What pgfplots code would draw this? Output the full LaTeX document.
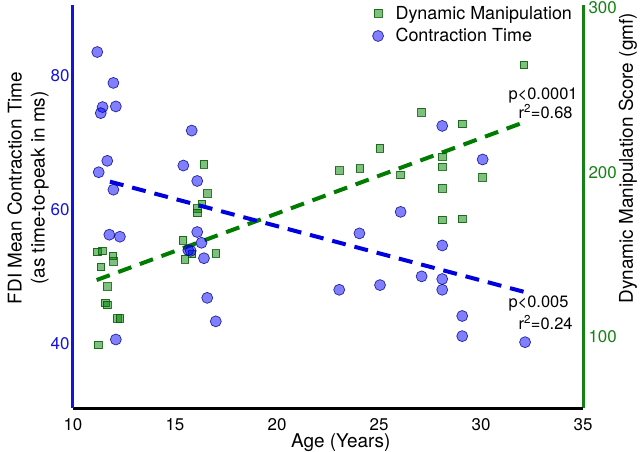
\documentclass[border=0pt]{standalone}
\usepackage{fontspec}
\setmainfont{TeX Gyre Heros}
\usepackage{pgfplots}
\pgfplotsset{compat=1.18}

\definecolor{axblue}{RGB}{20,20,220}
\definecolor{axgreen}{RGB}{20,130,20}
\definecolor{lnblue}{RGB}{0,0,225}
\definecolor{lngreen}{RGB}{0,125,0}

\pgfplotstableread{
age ms
11.19 83.0
11.98 78.4
11.45 74.8
11.36 73.9
12.10 74.9
11.68 66.8
11.26 65.1
11.98 62.5
11.78 55.8
12.30 55.5
12.10 40.2
15.82 71.3
15.41 66.1
16.09 63.8
16.09 56.2
16.30 54.6
15.65 53.5
15.77 53.4
16.42 52.3
16.58 46.4
17.00 42.9
23.05 47.6
25.05 48.3
24.04 56.0
26.06 59.2
27.09 49.6
28.10 49.2
28.10 47.6
28.10 54.2
28.10 72.0
30.08 67.0
29.08 43.7
29.08 40.7
32.16 39.8
}\contraction

\pgfplotstableread{
age score
11.24 93.3
11.19 150.0
11.45 150.6
11.36 140.9
11.95 147.4
11.98 144.0
11.68 128.8
11.58 119.0
11.68 117.6
12.17 109.5
12.30 109.5
16.42 203.2
16.58 185.5
16.31 179.0
16.09 176.4
16.09 173.7
15.38 157.1
15.49 145.4
15.82 148.6
17.01 149.0
23.05 199.3
24.07 200.7
25.05 212.9
26.06 196.7
27.09 234.8
28.10 207.8
28.10 201.7
28.10 188.6
28.10 169.3
29.08 227.7
29.08 169.9
30.08 195.3
32.11 263.5
}\dynman

\pgfplotsset{
  base/.style={
    scale only axis, width=510bp, height=403bp,
    at={(0,0)}, anchor=south west,
    xmin=10, xmax=35,
    tick style={draw=none},
    /pgf/number format/assume math mode=true,
    ticklabel style={font=\fontsize{17}{20}\selectfont},
    label style={font=\fontsize{19}{23}\selectfont},
  },
  circ/.style={only marks, mark=*, mark size=5.5bp,
    mark options={fill=blue, fill opacity=0.5, draw=blue!50!black, draw opacity=0.8, line width=0.7bp}},
  sq/.style={only marks, mark=square*, mark size=3.8bp,
    mark options={fill=green!50!black, fill opacity=0.5, draw=green!35!black, draw opacity=0.8, line width=0.7bp}},
}

\begin{document}
\begin{tikzpicture}
\useasboundingbox (-73bp,-44bp) rectangle (567bp,408bp);

% right axis: dynamic manipulation
\begin{axis}[base,
  axis x line=none,
  axis y line*=right,
  y axis line style={draw=axgreen, line width=3bp, -},
  ymin=55, ymax=300,
  ytick={100,200,300},
  yticklabel style={text=axgreen, xshift=2bp, yshift=-3bp},
  ylabel={Dynamic Manipulation Score (gmf)},
  ylabel style={at={(axis description cs:1.088,0.62)}, anchor=center},
]
\addplot[sq] table[x=age, y=score] {\dynman};
\addplot[lngreen, line width=4bp, dash pattern=on 14bp off 9bp] coordinates {(11.16,132.8) (32.04,228.4)};
\end{axis}

% left axis: contraction time
\begin{axis}[base,
  axis x line*=bottom,
  axis y line*=left,
  x axis line style={draw=black, line width=3bp, -},
  y axis line style={draw=axblue, line width=3bp, -},
  ymin=30, ymax=90,
  ytick={40,60,80},
  xtick={10,15,20,25,30,35},
  yticklabel style={text=axblue, yshift=-3bp},
  xticklabel style={yshift=-7bp},
  xlabel={Age (Years)},
  xlabel style={at={(axis description cs:0.525,-0.087)}, anchor=center},
  ylabel={FDI Mean Contraction Time\\(as time-to-peak in ms)},
  ylabel style={at={(axis description cs:-0.088,0.546)}, anchor=center, align=center},
  legend style={at={(axis description cs:0.587,1.003)}, anchor=north west,
    draw=none, fill=none, inner sep=0pt, row sep=4bp,
    font=\fontsize{18}{21}\selectfont,
    /tikz/every odd column/.append style={column sep=10bp}},
  legend cell align=left,
  clip=false,
]
\addlegendimage{sq}
\addlegendentry{Dynamic Manipulation}
\addplot[circ] table[x=age, y=ms] {\contraction};
\addlegendentry{Contraction Time}
\addplot[lnblue, line width=4bp, dash pattern=on 14bp off 9bp, forget plot] coordinates {(11.81,63.7) (32.1,47.3)};
\node[anchor=west, font=\fontsize{16.5}{19}\selectfont] at (axis cs:31.18,76.6) {p<0.0001};
\node[anchor=west, font=\fontsize{16.5}{19}\selectfont] at (axis cs:31.67,74.1) {r\textsuperscript{2}=0.68};
\node[anchor=west, font=\fontsize{16.5}{19}\selectfont] at (axis cs:31.18,45.5) {p<0.005};
\node[anchor=west, font=\fontsize{16.5}{19}\selectfont] at (axis cs:31.67,42.7) {r\textsuperscript{2}=0.24};
\end{axis}
\end{tikzpicture}
\end{document}
